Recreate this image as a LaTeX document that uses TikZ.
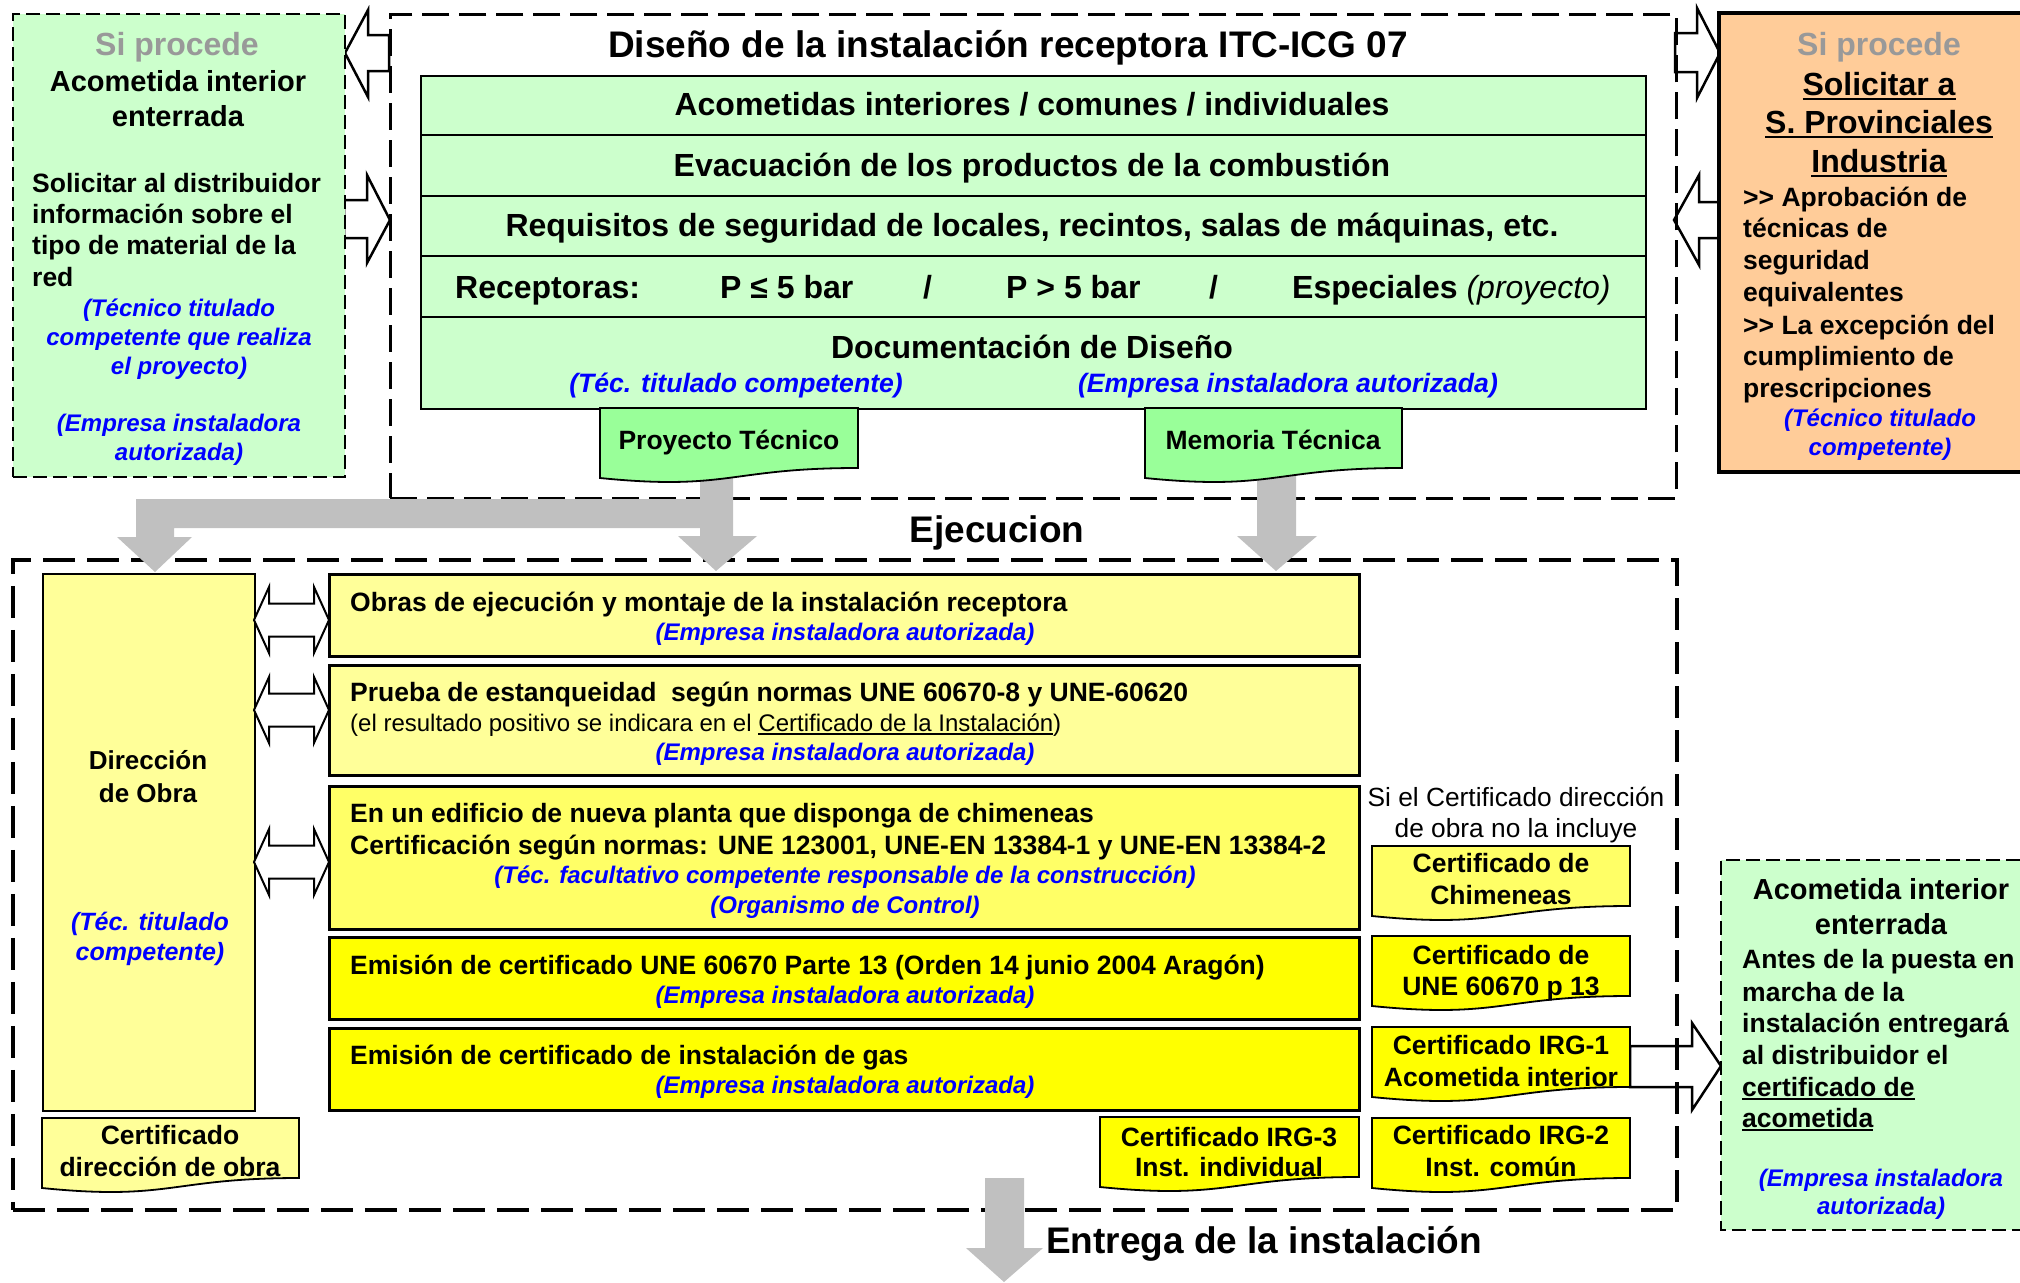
\documentclass[tikz,border=0pt]{standalone}
\usepackage{fontspec}
\setmainfont{Liberation Sans}
\definecolor{lgreen}{HTML}{CCFFCC}
\definecolor{dgreen}{HTML}{99FF99}
\definecolor{lyellow}{HTML}{FFFF99}
\definecolor{myellow}{HTML}{FFFF66}
\definecolor{byellow}{HTML}{FFFF00}
\definecolor{orangefill}{HTML}{FFCC99}
\definecolor{arrowgray}{HTML}{C0C0C0}
\definecolor{procgray}{HTML}{999999}
\definecolor{tblue}{HTML}{0000FF}
\newcommand\myfs[2]{\fontsize{#1}{#2}\selectfont}
\newcommand\myul[1]{\setbox0=\hbox{#1}\rlap{\rule[-0.14em]{\wd0}{0.075em}}\box0}
\newcommand\mydoc[5]{%
  \path[draw, line width=1.8pt, fill=#2] (#3,#5) -- (#4,#5) -- (#4,#5+60)
    .. controls ({(#3+#4)/2},#5+60) and ({(#3+#4)/2},#5+83) .. (#3,#5+70) -- cycle;
  \coordinate (#1) at ({(#3+#4)/2},#5+35);}
\newcommand\dblarr[1]{%
  \draw[line width=2pt, fill=white] (254,#1) -- (269,#1-33) -- (269,#1-16.5) -- (314,#1-16.5)
    -- (314,#1-33) -- (329,#1) -- (314,#1+33) -- (314,#1+16.5) -- (269,#1+16.5) -- (269,#1+33) -- cycle;}
\begin{document}
\begin{tikzpicture}[x=1pt,y=-1pt,
  txtc/.style={inner sep=0pt, anchor=mid, yshift=-6.5pt, font=\myfs{26.5}{31}\bfseries},
  txtl/.style={txtc, anchor=mid west},
  bluet/.style={inner sep=0pt, anchor=mid, yshift=-6pt, text=tblue, font=\myfs{24}{29}\bfseries\itshape},
  bigt/.style={inner sep=0pt, anchor=mid, yshift=-9pt, font=\myfs{37}{44}\bfseries},
  rowt/.style={inner sep=0pt, anchor=mid, yshift=-8pt, font=\myfs{32}{38}\bfseries},
  hdrt/.style={inner sep=0pt, anchor=mid, yshift=-7pt, font=\myfs{29}{34}\bfseries},
  grayt/.style={inner sep=0pt, anchor=mid, yshift=-8pt, text=procgray, font=\myfs{32}{38}\bfseries},
  regt/.style={inner sep=0pt, anchor=mid, yshift=-6.5pt, font=\myfs{26.3}{31}},
  sidebox/.style={draw, line width=2pt, dash pattern=on 14pt off 6pt, fill=lgreen, inner sep=0pt, anchor=north west},
  topdash/.style={draw, line width=2.5pt, dash pattern=on 27pt off 10pt, inner sep=0pt, anchor=north west},
  lowdash/.style={draw, line width=3.5pt, dash pattern=on 32pt off 12pt, inner sep=0pt, anchor=north west},
  rowbox/.style={draw, line width=2pt, fill=lgreen, inner sep=0pt, anchor=north west, minimum width=1225},
  midbox/.style={draw, line width=2.5pt, inner sep=0pt, anchor=north west, minimum width=1030},
  blockarr/.style={draw, line width=2.5pt, fill=white},
  grayarr/.style={fill=arrowgray}
]
\useasboundingbox (0,0) rectangle (2020,1282);
\fill[white] (0,0) rectangle (2020,1282);

% ---------- block arrows (behind boxes) ----------
\draw[blockarr] (389,35) -- (368,35) -- (368,10) -- (345,53) -- (368,97) -- (368,71) -- (389,71) -- cycle;
\draw[blockarr] (344,200) -- (367,200) -- (367,175) -- (390,220) -- (367,263) -- (367,238) -- (344,238) -- cycle;
\draw[blockarr] (1675,33) -- (1697,33) -- (1697,8) -- (1720,53) -- (1697,98) -- (1697,72) -- (1675,72) -- cycle;
\draw[blockarr] (1719,202) -- (1699,202) -- (1699,175) -- (1674,220) -- (1699,265) -- (1699,238) -- (1719,238) -- cycle;
\draw[blockarr] (1630,1046) -- (1692,1046) -- (1692,1023) -- (1721,1066) -- (1692,1110) -- (1692,1087) -- (1630,1087) -- cycle;

% ---------- frames ----------
\node[sidebox, minimum width=332, minimum height=463] (lbox) at (12,13) {};
\node[topdash, minimum width=1286, minimum height=484] (tbox) at (389,13) {};
\node[lowdash, minimum width=1664, minimum height=650] (lowbox) at (11,558) {};

% orange box (open on the right)
\fill[orangefill] (1719,13) rectangle (2020,472);
\draw[line width=3.5pt] (2020,13) -- (1719,13) -- (1719,472) -- (2020,472);
% right green box (open on the right)
\fill[lgreen] (1721,860) rectangle (2020,1230);
\draw[line width=2pt, dash pattern=on 14pt off 6pt] (2020,860) -- (1721,860) -- (1721,1230) -- (2020,1230);

% ---------- gray arrows ----------
\fill[grayarr] (733,470) -- (733,536) -- (757,536) -- (716,571) -- (678,536) -- (700,536) -- (700,528)
  -- (174,528) -- (174,537) -- (192,537) -- (155,572) -- (117,537) -- (136,537) -- (136,499)
  -- (700,499) -- (700,470) -- cycle;
\fill[grayarr] (1296,470) -- (1296,536) -- (1317,536) -- (1276,571) -- (1237,536) -- (1257,536) -- (1257,470) -- cycle;
\fill[grayarr] (1024,1178) -- (1024,1248) -- (1043,1248) -- (1004,1282) -- (966,1248) -- (985,1248) -- (985,1178) -- cycle;

% ---------- design rows ----------
\node[rowbox, minimum height=59] (r1) at (420,75) {};
\node[rowbox, minimum height=61] (r2) at (420,134) {};
\node[rowbox, minimum height=60] (r3) at (420,195) {};
\node[rowbox, minimum height=61] (r4) at (420,255) {};
\node[rowbox, minimum height=92] (r5) at (420,316) {};

\mydoc{dproy}{dgreen}{600}{858}{408}
\mydoc{dmem}{dgreen}{1145}{1402}{408}

% ---------- execution boxes ----------
\node[draw, line width=1.8pt, fill=lyellow, inner sep=0pt, anchor=north west, minimum width=212, minimum height=537] (dir) at (42,573) {};
\node[midbox, fill=lyellow, minimum height=82] (obras) at (328,573) {};
\node[midbox, fill=lyellow, minimum height=110] (prueba) at (328,664) {};
\node[midbox, fill=myellow, minimum height=143] (edif) at (328,785) {};
\node[midbox, fill=byellow, minimum height=82] (une) at (328,936) {};
\node[midbox, fill=byellow, minimum height=82] (gas) at (328,1027) {};

\dblarr{620}
\dblarr{710}
\dblarr{862}

\mydoc{dcdir}{lyellow}{42}{299}{1118}
\mydoc{dchim}{myellow}{1372}{1630}{846}
\mydoc{dune}{byellow}{1372}{1630}{936}
\mydoc{dirg1}{byellow}{1372}{1630}{1027}
\mydoc{dirg2}{byellow}{1372}{1630}{1118}
\mydoc{dirg3}{byellow}{1100}{1359}{1117}

% ---------- texts: left box ----------
\node[grayt] (l1) at (177,45) {Si procede};
\node[hdrt] (l2) at (178,82) {Acometida interior};
\node[hdrt] (l3) at (178,117) {enterrada};
\node[txtl] (l4) at (32,183) {Solicitar al distribuidor};
\node[txtl] (l5) at (32,214) {información sobre el};
\node[txtl] (l6) at (32,245) {tipo de material de la};
\node[txtl] (l7) at (32,277) {red};
\node[bluet] (l8) at (179,308) {(Técnico titulado};
\node[bluet] (l9) at (179,337) {competente que realiza};
\node[bluet] (l10) at (179,366) {el proyecto)};
\node[bluet] (l11) at (179,423) {(Empresa instaladora};
\node[bluet] (l12) at (179,452) {autorizada)};

% ---------- texts: design ----------
\node[bigt] (title) at (1008,46) {Diseño de la instalación receptora ITC-ICG 07};
\node[rowt] (r1t) at (1032,105) {Acometidas interiores / comunes / individuales};
\node[rowt] (r2t) at (1032,166) {Evacuación de los productos de la combustión};
\node[rowt] (r3t) at (1032,226) {Requisitos de seguridad de locales, recintos, salas de máquinas, etc.};
\node[rowt, anchor=mid west] (r4a) at (455,288) {Receptoras:};
\node[rowt, anchor=mid west] (r4b) at (720,288) {P ≤ 5 bar};
\node[rowt, anchor=mid west] (r4c) at (923,288) {/};
\node[rowt, anchor=mid west] (r4d) at (1006,288) {P > 5 bar};
\node[rowt, anchor=mid west] (r4e) at (1209,288) {/};
\node[rowt, anchor=mid west] (r4f) at (1292,288) {Especiales {\mdseries\itshape (proyecto)}};
\node[rowt] (r5t) at (1032,348) {Documentación de Diseño};
\node[bluet, yshift=-0.5pt, font=\myfs{26.6}{31}\bfseries\itshape] (r5a) at (736,383) {(Téc. titulado competente)};
\node[bluet, yshift=-0.5pt, font=\myfs{26.6}{31}\bfseries\itshape] (r5b) at (1288,383) {(Empresa instaladora autorizada)};
\node[txtc] (proyt) at (729,440) {Proyecto Técnico};
\node[txtc] (memt) at (1273,440) {Memoria Técnica};
\node[bigt] (ejec) at (997,531) {Ejecucion};

% ---------- texts: orange box ----------
\node[grayt] (o1) at (1879,45) {Si procede};
\node[rowt] (o2) at (1879,85) {\myul{Solicitar a}};
\node[rowt] (o3) at (1879,123) {\myul{S. Provinciales}};
\node[rowt] (o4) at (1879,162) {\myul{Industria}};
\node[txtl] (o5) at (1743,197) {>\kern0pt> Aprobación de};
\node[txtl] (o6) at (1743,228) {técnicas de};
\node[txtl] (o7) at (1743,260) {seguridad};
\node[txtl] (o8) at (1743,292) {equivalentes};
\node[txtl] (o9) at (1743,325) {>\kern0pt> La excepción del};
\node[txtl] (o10) at (1743,356) {cumplimiento de};
\node[txtl] (o11) at (1743,388) {prescripciones};
\node[bluet] (o12) at (1880,418) {(Técnico titulado};
\node[bluet] (o13) at (1880,447) {competente)};

% ---------- texts: execution ----------
\node[txtc, font=\myfs{26}{31}\bfseries] (dir1) at (148,760) {Dirección};
\node[txtc, font=\myfs{26}{31}\bfseries] (dir2) at (148,793) {de Obra};
\node[bluet, font=\myfs{25}{30}\bfseries\itshape] (dir3) at (150,922) {(Téc. titulado};
\node[bluet, font=\myfs{25}{30}\bfseries\itshape] (dir4) at (150,952) {competente)};

\node[txtl] (ob1) at (350,602) {Obras de ejecución y montaje de la instalación receptora};
\node[bluet] (ob2) at (845,632) {(Empresa instaladora autorizada)};
\node[txtl] (pr1) at (350,692) {Prueba de estanqueidad\ \ según normas UNE 60670-8 y UNE-60620};
\node[inner sep=0pt, anchor=mid west, yshift=-6pt, font=\myfs{24}{29}] (pr2) at (350,723) {(el resultado positivo se indicara en el \myul{Certificado de la Instalación})};
\node[bluet] (pr3) at (845,752) {(Empresa instaladora autorizada)};
\node[txtl] (ed1) at (350,813) {En un edificio de nueva planta que disponga de chimeneas};
\node[txtl] (ed2) at (350,845) {Certificación según normas: UNE 123001, UNE-EN 13384-1 y UNE-EN 13384-2};
\node[bluet] (ed3) at (845,875) {(Téc. facultativo competente responsable de la construcción)};
\node[bluet] (ed4) at (845,905) {(Organismo de Control)};
\node[txtl] (un1) at (350,965) {Emisión de certificado UNE 60670 Parte 13 (Orden 14 junio 2004 Aragón)};
\node[bluet] (un2) at (845,995) {(Empresa instaladora autorizada)};
\node[txtl] (ga1) at (350,1055) {Emisión de certificado de instalación de gas};
\node[bluet] (ga2) at (845,1085) {(Empresa instaladora autorizada)};

\node[txtc] (cd1) at (170,1135) {Certificado};
\node[txtc] (cd2) at (170,1167) {dirección de obra};
\node[regt] (si1) at (1516,797) {Si el Certificado dirección};
\node[regt] (si2) at (1516,828) {de obra no la incluye};
\node[txtc] (ch1) at (1501,863) {Certificado de};
\node[txtc] (ch2) at (1501,895) {Chimeneas};
\node[txtc] (uc1) at (1501,955) {Certificado de};
\node[txtc] (uc2) at (1501,986) {UNE 60670 p 13};
\node[txtc] (i11) at (1501,1045) {Certificado IRG-1};
\node[txtc] (i12) at (1501,1077) {Acometida interior};
\node[txtc] (i21) at (1501,1135) {Certificado IRG-2};
\node[txtc] (i22) at (1501,1167) {Inst. común};
\node[txtc] (i31) at (1229,1137) {Certificado IRG-3};
\node[txtc] (i32) at (1229,1167) {Inst. individual};
\node[bigt, anchor=mid west] (entrega) at (1046,1242) {Entrega de la instalación};

% ---------- texts: right green box ----------
\node[hdrt] (g1) at (1881,890) {Acometida interior};
\node[hdrt] (g2) at (1881,925) {enterrada};
\node[txtl] (g3) at (1742,959) {Antes de la puesta en};
\node[txtl] (g4) at (1742,992) {marcha de la};
\node[txtl] (g5) at (1742,1023) {instalación entregará};
\node[txtl] (g6) at (1742,1055) {al distribuidor el};
\node[txtl] (g7) at (1742,1087) {\myul{certificado de}};
\node[txtl] (g8) at (1742,1118) {\myul{acometida}};
\node[bluet] (g9) at (1881,1178) {(Empresa instaladora};
\node[bluet] (g10) at (1881,1206) {autorizada)};
\end{tikzpicture}
\end{document}
